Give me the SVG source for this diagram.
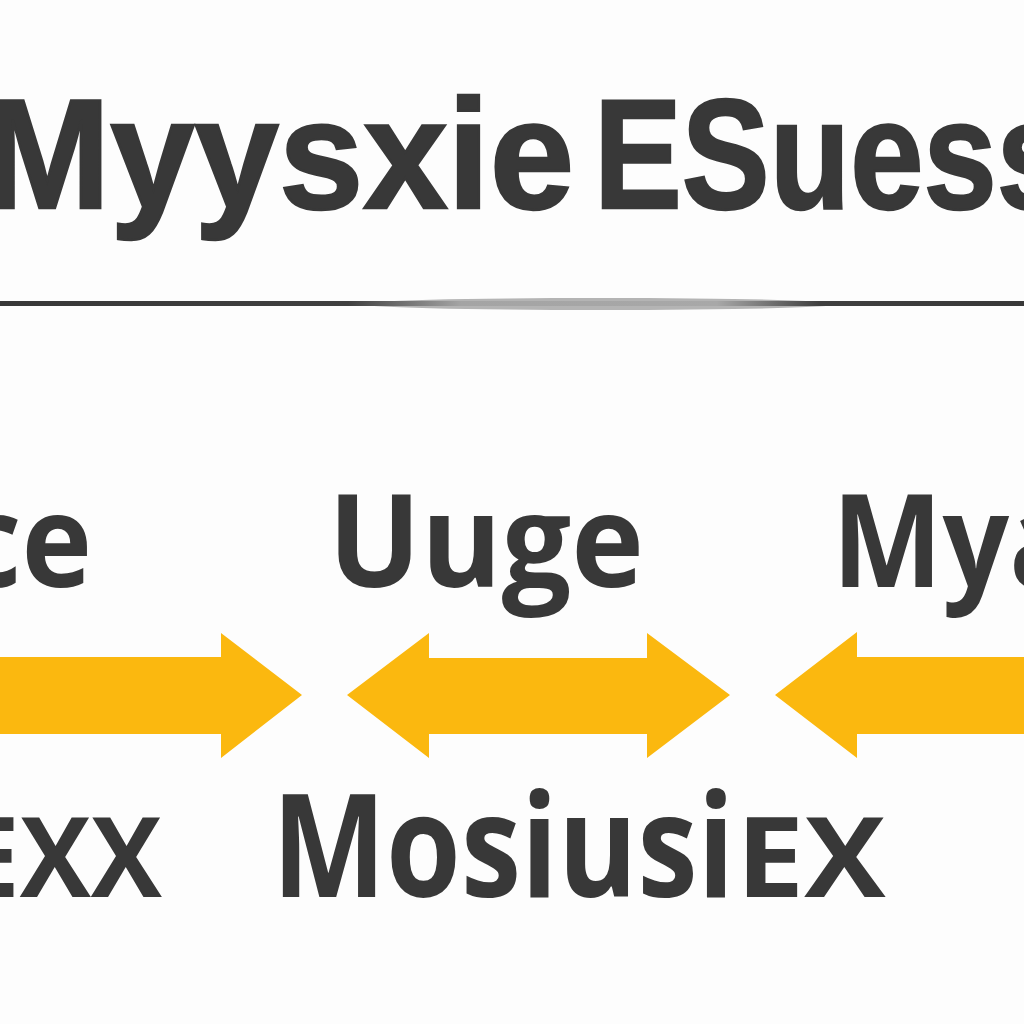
<svg xmlns="http://www.w3.org/2000/svg" width="1024" height="1024" viewBox="0 0 1024 1024">
<defs>
<linearGradient id="rl" x1="0" x2="1024" y1="0" y2="0" gradientUnits="userSpaceOnUse">
<stop offset="0" stop-color="#383838"/>
<stop offset="0.34" stop-color="#404040"/>
<stop offset="0.45" stop-color="#a4a4a4"/>
<stop offset="0.7" stop-color="#a8a8a8"/>
<stop offset="0.8" stop-color="#404040"/>
<stop offset="1" stop-color="#383838"/>
</linearGradient>
</defs>
<style>
text{font-family:"Liberation Sans","Noto Sans",sans-serif;fill:#383838}
.t{font-size:155px;font-weight:700;stroke:#383838;stroke-width:2.5px}
.m{font-size:130px;font-weight:700;font-family:"Open Sans","Liberation Sans",sans-serif}
.b{font-size:144px;font-weight:700;font-family:"Open Sans","Liberation Sans",sans-serif}
.s{font-size:112px;font-weight:700;font-family:"Open Sans","Liberation Sans",sans-serif}
.a{fill:#fbb80f}
</style>
<rect width="1024" height="1024" fill="#fdfdfd"/>
<g id="title"><text class="t" x="-16" y="208" textLength="590" lengthAdjust="spacingAndGlyphs">Myysxie</text>
<text class="t" x="594" y="208" textLength="476" lengthAdjust="spacingAndGlyphs">ESuess</text></g>
<g id="rule"><ellipse cx="600" cy="304" rx="240" ry="6" fill="#b4b4b4"/><rect x="0" y="301" width="1024" height="5" fill="url(#rl)"/></g>
<g id="label-ce"><text class="m" x="-40" y="587" textLength="132" lengthAdjust="spacingAndGlyphs">ce</text></g>
<g id="label-uuge"><text class="m" x="328" y="587" textLength="316" lengthAdjust="spacingAndGlyphs">Uuge</text></g>
<g id="label-mya"><text class="m" x="832" y="587" textLength="248" lengthAdjust="spacingAndGlyphs">Mya</text></g>
<g id="connectors">
<polygon class="a" points="0,657 221,657 221,633 302,695 221,758 221,734 0,734"/>
<polygon class="a" points="347,695 429,633 429,658 647,658 647,633 730,695 647,758 647,734 429,734 429,758"/>
<polygon class="a" points="775,695 857,632 857,657 1024,657 1024,734 857,734 857,758"/>
</g>
<g id="label-ex"><text class="s" x="-40" y="897" textLength="202" lengthAdjust="spacingAndGlyphs">EXX</text></g>
<g id="label-mosiusiex"><text class="b" transform="translate(272 897) scale(0.84 1)">Mosiusi</text><text class="s" transform="translate(736 897) scale(1.09 1)">EX</text></g>
</svg>
